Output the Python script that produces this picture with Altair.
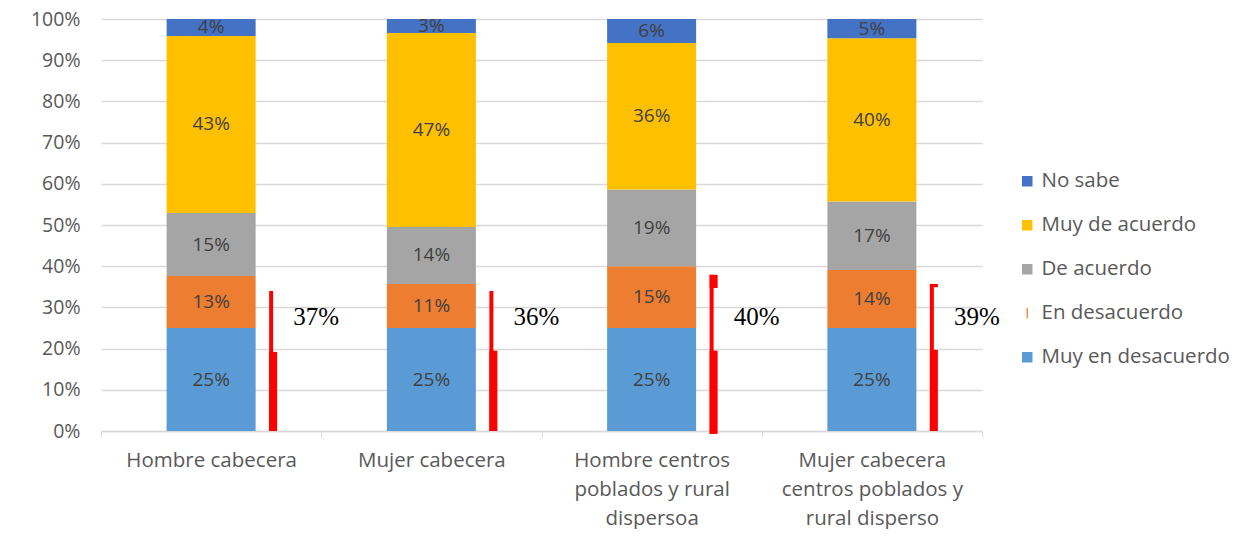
import json
import altair as alt
import pandas as pd

categories = [
    "Hombre cabecera",
    "Mujer cabecera",
    "Hombre centros poblados y rural dispersoa",
    "Mujer cabecera centros poblados y rural disperso",
]
category_lines = [
    ["Hombre cabecera"],
    ["Mujer cabecera"],
    ["Hombre centros", "poblados y rural", "dispersoa"],
    ["Mujer cabecera", "centros poblados y", "rural disperso"],
]
series = ["Muy en desacuerdo", "En desacuerdo", "De acuerdo", "Muy de acuerdo", "No sabe"]
series_colors = ["#5B9BD5", "#ED7D31", "#A5A5A5", "#FFC000", "#4472C4"]

muy_en_desacuerdo = [25.0, 25.0, 25.0, 25.0]
en_desacuerdo = [12.6, 10.7, 15.0, 14.1]
de_acuerdo = [15.3, 13.8, 18.6, 16.6]
muy_de_acuerdo = [43.0, 47.1, 35.6, 39.6]
no_sabe = [4.1, 3.4, 5.8, 4.7]

# annotation next to each bar (red bracket + total desacuerdo)
desacuerdo_total = [37, 36, 40, 39]
bracket_top = [34.0, 34.0, 37.9, 35.7]
bracket_bottom = [0.0, 0.0, -0.7, 0.0]
bracket_thick_top = [19.2, 19.5, 19.5, 19.7]
bracket_flag_bottom = [34.0, 34.0, 34.7, 34.9]
annotation_y = [27.7, 27.7, 27.7, 27.7]

values = [muy_en_desacuerdo, en_desacuerdo, de_acuerdo, muy_de_acuerdo, no_sabe]
rows = []
for si, s in enumerate(series):
    for ci, c in enumerate(categories):
        rows.append({"cat": c, "serie": s, "idx": si, "value": values[si][ci]})
df = pd.DataFrame(rows)
df["cum"] = df.sort_values("idx").groupby("cat")["value"].cumsum()
df["mid"] = df["cum"] - df["value"] / 2

ann = pd.DataFrame({
    "cat": categories,
    "total": desacuerdo_total,
    "top": bracket_top,
    "bottom": bracket_bottom,
    "thick": bracket_thick_top,
    "flag": bracket_flag_bottom,
    "ty": annotation_y,
})

legend_order = ["No sabe", "Muy de acuerdo", "De acuerdo", "En desacuerdo", "Muy en desacuerdo"]
color_scale = alt.Scale(domain=legend_order,
                        range=[series_colors[series.index(s)] for s in legend_order])
shape_scale = alt.Scale(domain=legend_order,
                        range=["square", "square", "square", "M-0.12,-1H0.12V1H-0.12Z", "square"])

# label expression for multi-line category labels
expr = "datum.value"
for c, lines in zip(reversed(categories), reversed(category_lines)):
    expr = f"datum.value === {json.dumps(c)} ? {json.dumps(lines)} : ({expr})"

FONT = "Open Sans"
GRAY = "#595959"

x_enc = alt.X("cat:N", sort=categories, title=None,
              scale=alt.Scale(paddingInner=0, paddingOuter=0),
              axis=alt.Axis(labelExpr=expr, labelAngle=0, labelFontSize=20.5, labelColor=GRAY,
                            labelFont=FONT, labelPadding=13, labelLineHeight=29,
                            labelAlign="center", labelLimit=400,
                            tickBand="extent", tickSize=6, tickColor="#D9D9D9",
                            domainColor="#D9D9D9", domainWidth=1.5, labelBaseline="top"))
y_scale = alt.Scale(domain=[0, 100], nice=False)

legend = alt.Legend(title=None, orient="none", legendX=916, legendY=152,
                    labelFontSize=20.5, labelColor=GRAY, labelFont=FONT, labelLimit=400,
                    symbolSize=110, symbolOpacity=1, symbolStrokeWidth=0,
                    rowPadding=23, labelOffset=4)

bars = alt.Chart(df).mark_bar(width=89).encode(
    x=x_enc,
    y=alt.Y("value:Q", stack="zero", scale=y_scale, title=None,
            axis=alt.Axis(values=list(range(0, 101, 10)), labelExpr="datum.value + '%'",
                          labelFontSize=19.5, labelColor=GRAY, labelFont=FONT,
                          labelPadding=21, ticks=False, domain=False,
                          gridColor="#D9D9D9", gridWidth=1.5)),
    color=alt.Color("serie:N", scale=color_scale, legend=legend),
    order=alt.Order("idx:Q"),
)

legend_pts = alt.Chart(df).mark_point(filled=True, opacity=0, size=1).encode(
    x=alt.X("cat:N", sort=categories),
    y=alt.Y("mid:Q", scale=y_scale),
    color=alt.Color("serie:N", scale=color_scale, legend=legend),
    shape=alt.Shape("serie:N", scale=shape_scale, legend=legend),
)

labels = alt.Chart(df).transform_calculate(
    lab="format(datum.value, '.0f') + '%'"
).mark_text(fontSize=19, font=FONT, color="#404040").encode(
    x=alt.X("cat:N", sort=categories),
    y=alt.Y("mid:Q", scale=y_scale),
    text="lab:N",
)

thin = alt.Chart(ann).mark_rule(color="#FF0000", strokeWidth=4, xOffset=60).encode(
    x=alt.X("cat:N", sort=categories),
    y=alt.Y("top:Q", scale=y_scale),
    y2="bottom:Q",
)
thick = alt.Chart(ann).mark_bar(color="#FF0000", width=8, xOffset=62).encode(
    x=alt.X("cat:N", sort=categories),
    y=alt.Y("thick:Q", scale=y_scale),
    y2="bottom:Q",
)
flag = alt.Chart(ann).mark_bar(color="#FF0000", width=8, xOffset=62).encode(
    x=alt.X("cat:N", sort=categories),
    y=alt.Y("top:Q", scale=y_scale),
    y2="flag:Q",
)
tot = alt.Chart(ann).transform_calculate(
    lab="datum.total + '%'"
).mark_text(fontSize=25, font="Liberation Serif", color="#000000", xOffset=105).encode(
    x=alt.X("cat:N", sort=categories),
    y=alt.Y("ty:Q", scale=y_scale),
    text="lab:N",
)

chart = alt.layer(legend_pts, bars, labels, thin, thick, flag, tot).properties(
    width=881, height=412,
    padding={"left": 22, "top": 1, "right": 0, "bottom": 0},
).configure_view(stroke=None)

chart.save("out.html", embed_options={"renderer": "svg", "actions": False})
